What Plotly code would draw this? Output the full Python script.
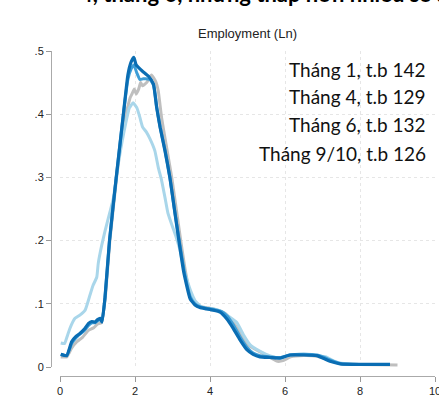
import plotly.graph_objects as go

# ---- data ----
x_t1 = [0.02,0.18,0.31,0.45,0.6,0.76,0.9,1.0,1.1,1.2,1.33,1.51,1.7,1.8,1.87,1.92,1.98,2.03,2.1,2.15,2.2,2.31,2.44,2.55,2.62,2.71,2.85,2.98,3.1,3.22,3.35,3.5,3.65,3.8,4.0,4.2,4.4,4.6,4.8,5.0,5.2,5.4,5.6,5.8,5.95,6.15,6.5,6.85,7.1,7.3,7.5,8.0,9.0]
y_t1 = [0.016,0.016,0.030,0.040,0.047,0.058,0.062,0.068,0.070,0.105,0.200,0.300,0.390,0.410,0.426,0.432,0.440,0.432,0.440,0.450,0.445,0.450,0.462,0.452,0.437,0.394,0.345,0.300,0.250,0.200,0.150,0.110,0.098,0.095,0.093,0.090,0.085,0.072,0.055,0.036,0.028,0.022,0.015,0.009,0.010,0.016,0.018,0.017,0.013,0.008,0.005,0.004,0.003]

x_t4 = [0.02,0.12,0.2,0.27,0.4,0.53,0.67,0.8,0.88,0.98,1.02,1.11,1.2,1.33,1.42,1.55,1.65,1.75,1.85,1.95,2.05,2.13,2.2,2.3,2.4,2.53,2.62,2.71,2.8,2.88,3.0,3.1,3.2,3.3,3.39,3.5,3.6,3.75,3.9,4.1,4.3,4.5,4.72,4.9,5.07,5.3,5.5,5.7,5.9,6.13,6.5,6.85,7.1,7.28,7.5,8.0,8.8]
y_t4 = [0.038,0.037,0.050,0.062,0.077,0.082,0.090,0.114,0.129,0.142,0.164,0.192,0.215,0.245,0.266,0.320,0.355,0.385,0.410,0.418,0.410,0.395,0.380,0.372,0.361,0.342,0.316,0.295,0.268,0.243,0.222,0.205,0.185,0.155,0.137,0.118,0.105,0.096,0.093,0.092,0.088,0.080,0.070,0.050,0.035,0.026,0.020,0.016,0.014,0.019,0.020,0.018,0.016,0.010,0.006,0.004,0.004]

x_t6 = [0.02,0.18,0.31,0.42,0.53,0.65,0.76,0.85,0.93,1.0,1.07,1.12,1.2,1.32,1.5,1.69,1.81,1.9,1.97,2.05,2.13,2.22,2.4,2.5,2.58,2.67,2.8,2.93,3.05,3.18,3.32,3.48,3.6,3.75,3.9,4.1,4.3,4.47,4.63,4.8,5.0,5.15,5.33,5.6,5.87,6.13,6.5,6.85,7.05,7.25,7.5,8.0,8.8]
y_t6 = [0.020,0.018,0.037,0.046,0.052,0.058,0.066,0.070,0.070,0.073,0.075,0.072,0.110,0.200,0.300,0.400,0.455,0.472,0.478,0.465,0.455,0.456,0.455,0.445,0.410,0.380,0.343,0.300,0.250,0.200,0.150,0.110,0.100,0.095,0.093,0.091,0.088,0.080,0.066,0.048,0.030,0.022,0.018,0.016,0.015,0.019,0.020,0.019,0.015,0.010,0.005,0.004,0.004]

x_t9 = [0.02,0.18,0.31,0.42,0.53,0.65,0.76,0.85,0.93,1.0,1.07,1.12,1.2,1.32,1.5,1.69,1.81,1.9,1.97,2.03,2.09,2.2,2.36,2.49,2.58,2.67,2.8,2.93,3.05,3.17,3.3,3.47,3.6,3.73,3.9,4.08,4.27,4.45,4.61,4.8,4.99,5.15,5.33,5.6,5.87,6.13,6.5,6.85,7.05,7.2,7.47,8.0,8.8]
y_t9 = [0.020,0.018,0.040,0.048,0.053,0.060,0.069,0.072,0.071,0.075,0.077,0.071,0.110,0.200,0.300,0.400,0.462,0.483,0.490,0.478,0.474,0.468,0.460,0.448,0.410,0.379,0.342,0.300,0.250,0.200,0.150,0.108,0.098,0.094,0.092,0.090,0.087,0.076,0.062,0.043,0.027,0.020,0.016,0.015,0.014,0.019,0.019,0.018,0.013,0.009,0.005,0.004,0.004]

series_names = ["Tháng 1, t.b 142", "Tháng 4, t.b 129", "Tháng 6, t.b 132", "Tháng 9/10, t.b 126"]
x_ticks = [0, 2, 4, 6, 8, 10]
x_tick_labels = ["0", "2", "4", "6", "8", "10"]
y_ticks = [0, 0.1, 0.2, 0.3, 0.4, 0.5]
y_tick_labels = ["0", ".1", ".2", ".3", ".4", ".5"]
chart_title = "Employment (Ln)"
slide_title = "4, tháng 6, nhưng thấp hơn nhiều so sánh"

colors = ["#bfbfbf", "#a9d6ea", "#3d9dd6", "#0a6db3"]
widths = [3, 3, 3, 3.2]

# page pixel coordinates (body margin removed below)
W, H = 439, 396
AX_L, AX_R, AX_T, AX_B = 51, 435, 51, 376        # axis-line box
L, R, T, B = AX_L, W - AX_R, AX_T, H - AX_B
PW, PH = W - L - R, H - T - B


def px(xp):
    return (xp - AX_L) / PW


def py(yp):
    return (AX_B - yp) / PH


fig = go.Figure()
for xs, ys, c, w, n in zip([x_t1, x_t4, x_t6, x_t9], [y_t1, y_t4, y_t6, y_t9], colors, widths, series_names):
    fig.add_trace(go.Scatter(x=xs, y=ys, mode="lines", name=n,
                             line=dict(color=c, width=w, shape="spline", smoothing=0.4),
                             showlegend=False, hoverinfo="skip"))

annots = []
annots.append(dict(text=chart_title, x=px(247), y=py(33), xref="paper", yref="paper",
                   xanchor="center", yanchor="middle", showarrow=False,
                   font=dict(family="Liberation Sans, Arial", size=13, color="#222")))
annots.append(dict(text="<b>" + slide_title + "</b>", x=px(78), y=py(9), xref="paper", yref="paper",
                   xanchor="left", yanchor="bottom", showarrow=False,
                   font=dict(family="Lato, Open Sans", size=22, color="#000")))
for i, n in enumerate(series_names):
    annots.append(dict(text=n, x=px(428), y=py(69 + 28 * i), xref="paper", yref="paper",
                       xanchor="right", yanchor="middle", showarrow=False,
                       font=dict(family="Lato, Open Sans", size=19, color="#111")))

axis_common = dict(anchor="free", position=0, ticks="outside", ticklen=5,
                   tickcolor="#999", showline=True, linecolor="#aaa", linewidth=1,
                   showgrid=True, gridcolor="#e6e6e6", griddash="dot", gridwidth=1,
                   zeroline=False, automargin=False, ticklabeloverflow="allow",
                   tickfont=dict(family="Liberation Sans, Arial", size=11, color="#222"))

fig.update_layout(
    width=W, height=H,
    margin=dict(l=L, r=R, t=T, b=B, pad=0),
    paper_bgcolor="white", plot_bgcolor="white",
    annotations=annots,
    xaxis=dict(domain=[(60 - AX_L) / PW, 1], range=[0, 10],
               tickvals=x_ticks, ticktext=x_tick_labels, **axis_common),
    yaxis=dict(domain=[(AX_B - 367) / PH, 1], range=[0, 0.5],
               tickvals=y_ticks, ticktext=y_tick_labels, **axis_common),
)

fig.write_html("out.html", config={"displayModeBar": False},
               post_script="document.body.style.margin='0';document.body.style.overflow='hidden';")
